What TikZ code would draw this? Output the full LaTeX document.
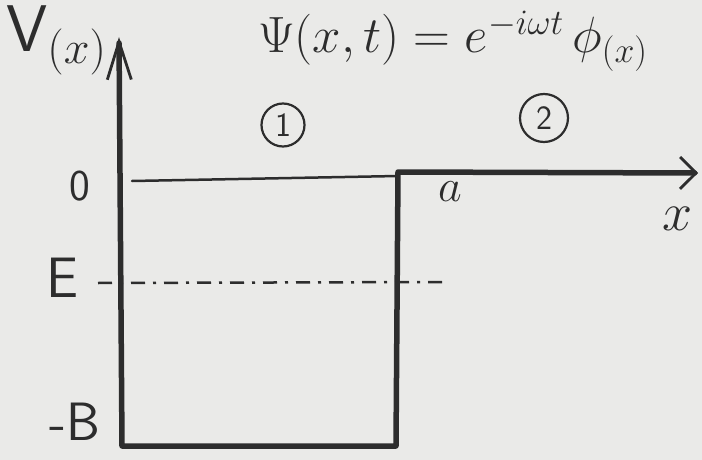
\RequirePackage{fix-cm}
\documentclass[tikz,border=0pt]{standalone}
\usepackage{amsmath,amssymb}
\usepackage{xcolor}
\usepackage{tikz}
\usetikzlibrary{arrows.meta,positioning,calc}
\definecolor{inkgray}{RGB}{45,45,45}
\definecolor{paper}{RGB}{234,234,232}

\begin{document}
\begin{tikzpicture}[x=1pt, y=-1pt, font=\sffamily,
  ink/.style={draw=inkgray, line cap=round, line join=round},
  wall/.style={ink, line width=5.5pt},
  thinline/.style={ink, line width=2.5pt},
  lbl/.style={text=inkgray, inner sep=0pt},
  region/.style={circle, draw=inkgray, line width=2.2pt, inner sep=0pt, text=inkgray, font=\sffamily\fontsize{34}{36}\selectfont}]

% 0. Paper and frame
\useasboundingbox (0,0) rectangle (702,460);
\fill[paper] (0,0) rectangle (702,460);
\clip (0,0) rectangle (702,460);

% 1. Corner points of the well
\coordinate (vtop) at (119,37);
\coordinate (vbot) at (122,446);
\coordinate (wallbot) at (396,446);
\coordinate (walltop) at (398,172);
\coordinate (xtip) at (698,173);
\coordinate (zeroL) at (132,181);
\coordinate (zeroR) at (398,176);
\coordinate (eL) at (98,283);
\coordinate (eR) at (448,282);

% 2. Axes and potential wall
\draw[wall, {Straight Barb[length=38pt,width=24pt,line width=2.8pt]}-{Straight Barb[length=16pt,width=32pt,line width=2.8pt]}]
  (vtop) -- (vbot) -- (wallbot) -- (walltop) -- (xtip);
\draw[thinline] (zeroL) -- (zeroR);
\draw[thinline, line cap=butt, dash pattern={on 14pt off 8pt on 3pt off 8pt}] (eL) -- (eR);

% 3. Axis labels
\node[lbl, anchor=base west, font=\sffamily\fontsize{66}{70}\selectfont] (vlabel) at (6,52) {V$_{(x)}$};
\node[lbl, font=\sffamily\fontsize{44}{48}\selectfont] (zero) at (80,186) {0};
\node[lbl, font=\sffamily\fontsize{57}{60}\selectfont] (energy) at (62,278) {E};
\node[lbl, font=\sffamily\fontsize{54}{58}\selectfont] (depth) at (75,422) {-B};
\node[lbl, font=\fontsize{46}{50}\selectfont] (width) at (450,192) {$a$};
\node[lbl, font=\fontsize{54}{58}\selectfont] (xlabel) at (678,219) {$x$};

% 4. Regions
\node[region, minimum size=43pt] (reg1) at (283,125) {1};
\node[region, minimum size=48pt] (reg2) at (544,118) {2};

% 5. Wave function
\node[lbl, anchor=base west, font=\fontsize{51}{55}\selectfont] (wave) at (258,53)
  {$\Psi(x,t)=e^{-i\omega t}\,\phi_{(x)}$};

\end{tikzpicture}
\end{document}
